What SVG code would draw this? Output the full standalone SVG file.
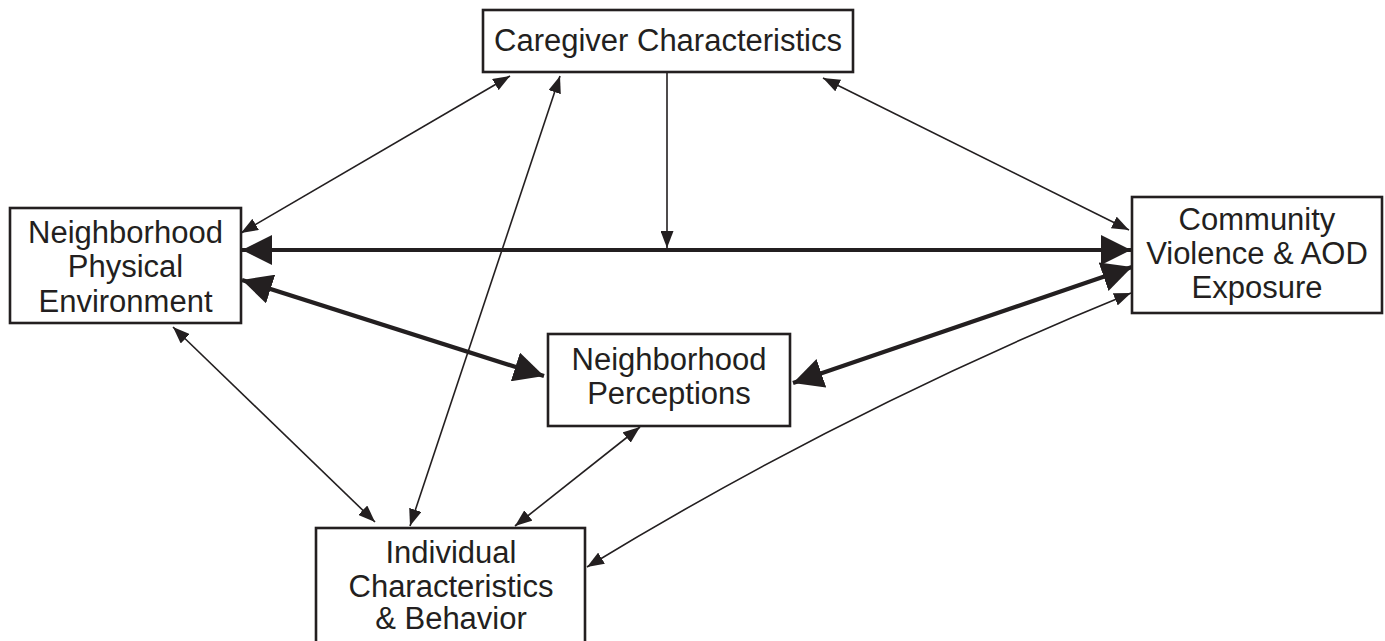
<svg xmlns="http://www.w3.org/2000/svg" width="1385" height="641" viewBox="0 0 1385 641">
<style>
.box{fill:#fff;stroke:#231f20;stroke-width:2.6}
.t{font-family:"Liberation Sans",Arial,sans-serif;font-size:31px;fill:#231f20;text-anchor:middle}
.thin{fill:none;stroke:#231f20;stroke-width:1.6}
.thick{fill:none;stroke:#231f20;stroke-width:4.2}
</style>
<defs>
<marker id="ah" markerUnits="userSpaceOnUse" viewBox="0 0 17 13" refX="17" refY="6.5" markerWidth="17" markerHeight="13" orient="auto-start-reverse">
<path d="M0,0 L17,6.5 L0,13 z" fill="#231f20"/>
</marker>
<marker id="ahb" markerUnits="userSpaceOnUse" viewBox="0 0 30 30" refX="30" refY="15" markerWidth="30" markerHeight="30" orient="auto-start-reverse">
<path d="M0,0 L30,15 L0,30 z" fill="#231f20"/>
</marker>
</defs>
<g id="connectors">
<line class="thin" x1="510" y1="76" x2="241" y2="233" marker-start="url(#ah)" marker-end="url(#ah)"/>
<line class="thin" x1="560" y1="76" x2="410" y2="526" marker-start="url(#ah)" marker-end="url(#ah)"/>
<line class="thin" x1="667" y1="73" x2="667" y2="248" marker-end="url(#ah)"/>
<line class="thin" x1="823" y1="78" x2="1129" y2="230" marker-start="url(#ah)" marker-end="url(#ah)"/>
<line class="thick" x1="242" y1="250" x2="1131" y2="250" marker-start="url(#ahb)" marker-end="url(#ahb)"/>
<line class="thick" x1="242" y1="280" x2="544" y2="376" marker-start="url(#ahb)" marker-end="url(#ahb)"/>
<line class="thick" x1="1132" y1="267" x2="793" y2="383" marker-start="url(#ahb)" marker-end="url(#ahb)"/>
<line class="thin" x1="173" y1="327" x2="375" y2="522" marker-start="url(#ah)" marker-end="url(#ah)"/>
<line class="thin" x1="640" y1="427" x2="515" y2="526" marker-start="url(#ah)" marker-end="url(#ah)"/>
<path class="thin" d="M1131,293 Q848,408 587,567" marker-start="url(#ah)" marker-end="url(#ah)"/>
</g>
<g id="caregiver">
<rect class="box" x="483" y="10" width="370" height="62"/>
<text class="t" x="668" y="51">Caregiver Characteristics</text>
</g>
<g id="physical">
<rect class="box" x="10" y="208" width="231" height="115"/>
<text class="t" x="125.5" y="243">Neighborhood</text>
<text class="t" x="125.5" y="277">Physical</text>
<text class="t" x="125.5" y="312">Environment</text>
</g>
<g id="community">
<rect class="box" x="1132" y="197" width="250" height="116"/>
<text class="t" x="1257" y="230">Community</text>
<text class="t" x="1257" y="264">Violence &amp; AOD</text>
<text class="t" x="1257" y="298">Exposure</text>
</g>
<g id="perceptions">
<rect class="box" x="548" y="334" width="242" height="92"/>
<text class="t" x="669" y="370">Neighborhood</text>
<text class="t" x="669" y="404">Perceptions</text>
</g>
<g id="individual">
<rect class="box" x="316" y="528" width="269" height="130"/>
<text class="t" x="451" y="563">Individual</text>
<text class="t" x="451" y="597">Characteristics</text>
<text class="t" x="451" y="629">&amp; Behavior</text>
</g>
</svg>
